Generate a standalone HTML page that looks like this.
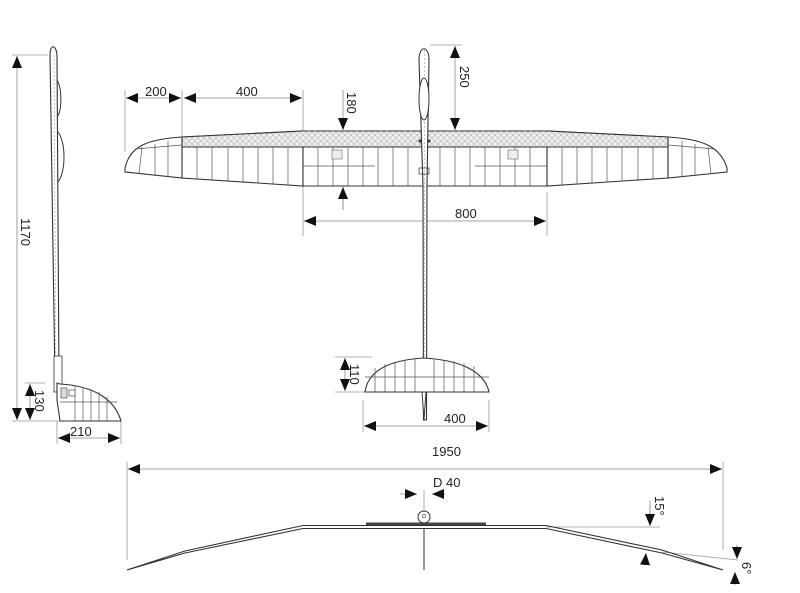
<!DOCTYPE html>
<html><head><style>
html,body{margin:0;padding:0;background:#fff;}
svg{display:block;}
text{font-family:"Liberation Sans",Arial,sans-serif;font-size:13px;fill:#222;}
</style></head><body>
<svg width="800" height="593" viewBox="0 0 800 593" xmlns="http://www.w3.org/2000/svg">
<defs>
<pattern id="h" width="6" height="6" patternUnits="userSpaceOnUse">
<rect width="6" height="6" fill="#f0f0f0"/>
<path d="M0 6L6 0M-1 1L1 -1M5 7L7 5M0 0L6 6" stroke="#bbb" stroke-width="0.7"/>
</pattern>
<marker id="a" markerWidth="12" markerHeight="10" refX="12" refY="5" orient="auto-start-reverse" markerUnits="userSpaceOnUse">
<path d="M0 0L12 5L0 10Z" fill="#111"/>
</marker>
</defs>
<g stroke="#999" stroke-width="0.8" fill="none">
<line x1="125" y1="90" x2="125" y2="152"/>
<line x1="182" y1="90" x2="182" y2="137"/>
<line x1="303" y1="90" x2="303" y2="236"/>
<line x1="547" y1="192" x2="547" y2="236"/>
<line x1="430" y1="45" x2="462" y2="45"/>
<line x1="455" y1="131" x2="462" y2="131"/>
<line x1="343" y1="186" x2="343" y2="210"/>
<line x1="12" y1="55" x2="48" y2="55"/>
<line x1="12" y1="421" x2="62" y2="421"/>
<line x1="25" y1="383" x2="45" y2="383"/>
<line x1="57" y1="421" x2="57" y2="444"/>
<line x1="121" y1="421" x2="121" y2="444"/>
<line x1="335" y1="357" x2="372" y2="357"/>
<line x1="335" y1="392" x2="365" y2="392"/>
<line x1="363" y1="400" x2="363" y2="432"/>
<line x1="489" y1="400" x2="489" y2="432"/>
<line x1="127" y1="462" x2="127" y2="560"/>
<line x1="723" y1="462" x2="723" y2="550"/>
<line x1="424" y1="490" x2="424" y2="512"/>
<line x1="546" y1="527" x2="660" y2="527"/>
<line x1="662" y1="552" x2="738" y2="560"/>
<line x1="650" y1="500" x2="650" y2="520"/>
<line x1="737" y1="545" x2="737" y2="552"/>
</g>
<g stroke="#888" stroke-width="0.8" fill="none">
<line x1="126" y1="98" x2="181" y2="98" marker-start="url(#a)" marker-end="url(#a)"/>
<line x1="184" y1="98" x2="302" y2="98" marker-start="url(#a)" marker-end="url(#a)"/>
<line x1="304" y1="221" x2="546" y2="221" marker-start="url(#a)" marker-end="url(#a)"/>
<line x1="455" y1="46" x2="455" y2="130" marker-start="url(#a)" marker-end="url(#a)"/>
<line x1="343" y1="90" x2="343" y2="130" marker-end="url(#a)"/>
<line x1="343" y1="210" x2="343" y2="187" marker-end="url(#a)"/>
<line x1="17" y1="56" x2="17" y2="420" marker-start="url(#a)" marker-end="url(#a)"/>
<line x1="30" y1="384" x2="30" y2="420" marker-start="url(#a)" marker-end="url(#a)"/>
<line x1="58" y1="438" x2="120" y2="438" marker-start="url(#a)" marker-end="url(#a)"/>
<line x1="345" y1="358" x2="345" y2="391" marker-start="url(#a)" marker-end="url(#a)"/>
<line x1="364" y1="426" x2="488" y2="426" marker-start="url(#a)" marker-end="url(#a)"/>
<line x1="128" y1="469" x2="722" y2="469" marker-start="url(#a)" marker-end="url(#a)"/>
<line x1="400" y1="494" x2="417" y2="494" marker-end="url(#a)"/>
<line x1="445" y1="494" x2="432" y2="494" marker-end="url(#a)"/>
<line x1="650" y1="505" x2="650" y2="526" marker-end="url(#a)"/>
<line x1="645" y1="565" x2="646" y2="553" marker-end="url(#a)"/>
<line x1="737" y1="545" x2="737" y2="559" marker-end="url(#a)"/>
<line x1="735" y1="585" x2="735" y2="572" marker-end="url(#a)"/>
</g>
<text x="145" y="96">200</text>
<text x="236" y="96">400</text>
<text x="455" y="218">800</text>
<text x="432" y="456">1950</text>
<text x="433" y="487">D 40</text>
<text x="444" y="423">400</text>
<text x="70" y="436">210</text>
<text transform="translate(347,92) rotate(90)">180</text>
<text transform="translate(460,66) rotate(90)">250</text>
<text transform="translate(21,218) rotate(90)">1170</text>
<text transform="translate(35,390) rotate(90)">130</text>
<text transform="translate(350,364) rotate(90)">110</text>
<text transform="translate(655,496) rotate(90)">15°</text>
<text transform="translate(742,562) rotate(90)">6°</text>

<g stroke="#333" stroke-width="1.1" fill="#fff">
<path d="M182 137 L303 131 L303 186 L182 178 Z"/>
<path d="M668 137 L547 131 L547 186 L668 178 Z"/>
<path d="M303 131 H547 V186 H303 Z"/>
<path d="M182 137 C150 139 130 145 125 168 L125 172 L182 178 Z"/>
<path d="M668 137 C700 139 720 145 727 168 L727 172 L668 178 Z"/>
<path d="M182 137 L303 131 L547 131 L668 137 L668 147 L547 147 L303 147 L182 147 Z" fill="url(#h)"/>
</g>
<g stroke="#555" stroke-width="0.7">
<line x1="197" y1="147" x2="197" y2="179"/><line x1="212" y1="147" x2="212" y2="180"/>
<line x1="228" y1="147" x2="228" y2="181"/><line x1="243" y1="147" x2="243" y2="182"/>
<line x1="258" y1="147" x2="258" y2="183"/><line x1="273" y1="147" x2="273" y2="184"/>
<line x1="288" y1="147" x2="288" y2="185"/>
<line x1="653" y1="147" x2="653" y2="179"/><line x1="638" y1="147" x2="638" y2="180"/>
<line x1="622" y1="147" x2="622" y2="181"/><line x1="607" y1="147" x2="607" y2="182"/>
<line x1="592" y1="147" x2="592" y2="183"/><line x1="577" y1="147" x2="577" y2="184"/>
<line x1="562" y1="147" x2="562" y2="185"/>
<line x1="318" y1="147" x2="318" y2="186"/><line x1="333" y1="147" x2="333" y2="186"/>
<line x1="348" y1="147" x2="348" y2="186"/><line x1="363" y1="147" x2="363" y2="186"/>
<line x1="378" y1="147" x2="378" y2="186"/><line x1="393" y1="147" x2="393" y2="186"/>
<line x1="408" y1="147" x2="408" y2="186"/><line x1="440" y1="147" x2="440" y2="186"/>
<line x1="455" y1="147" x2="455" y2="186"/><line x1="470" y1="147" x2="470" y2="186"/>
<line x1="485" y1="147" x2="485" y2="186"/><line x1="500" y1="147" x2="500" y2="186"/>
<line x1="515" y1="147" x2="515" y2="186"/><line x1="530" y1="147" x2="530" y2="186"/>
<line x1="303" y1="166" x2="375" y2="166"/><line x1="475" y1="166" x2="547" y2="166"/>
<line x1="142" y1="147" x2="139" y2="174"/><line x1="155" y1="144" x2="155" y2="175"/>
<line x1="168" y1="141" x2="168" y2="177"/><line x1="135" y1="149" x2="182" y2="145"/>
<line x1="708" y1="147" x2="711" y2="174"/><line x1="695" y1="144" x2="695" y2="175"/>
<line x1="682" y1="141" x2="682" y2="177"/><line x1="715" y1="149" x2="668" y2="145"/>
</g>
<rect x="332" y="150" width="10" height="9" fill="#eee" stroke="#666" stroke-width="0.6"/>
<rect x="508" y="150" width="10" height="9" fill="#eee" stroke="#666" stroke-width="0.6"/>
<path d="M419 60 C419 45 429 45 429 60 L427 186 L426.5 420 L423.5 420 L423 186 Z" fill="#fff" stroke="#333" stroke-width="1.1"/>
<line x1="424.5" y1="50" x2="424.5" y2="415" stroke="#999" stroke-width="0.6" stroke-dasharray="2,2"/>
<ellipse cx="424" cy="99" rx="5" ry="21" fill="#fff" stroke="#333"/>
<circle cx="420" cy="141" r="1.5" fill="#333"/><circle cx="429" cy="141" r="1.5" fill="#333"/>
<rect x="419" y="168" width="10" height="6" fill="none" stroke="#333" stroke-width="0.7"/>
<path d="M365 392 C368 370 390 360 424 358 C458 360 484 370 489 392 Z" fill="#fff" stroke="#333" stroke-width="1.1"/>
<line x1="365" y1="377" x2="489" y2="377" stroke="#555" stroke-width="0.7"/>
<g stroke="#555" stroke-width="0.7">
<line x1="375" y1="368" x2="375" y2="392"/><line x1="385" y1="364" x2="385" y2="392"/><line x1="395" y1="362" x2="395" y2="392"/><line x1="405" y1="360" x2="405" y2="392"/><line x1="415" y1="359" x2="415" y2="392"/>
<line x1="434" y1="359" x2="434" y2="392"/><line x1="444" y1="360" x2="444" y2="392"/><line x1="454" y1="361" x2="454" y2="392"/><line x1="464" y1="363" x2="464" y2="392"/><line x1="474" y1="366" x2="474" y2="392"/>
</g>
<path d="M422 392 L424 420 L426 392 Z" fill="#fff" stroke="#333"/>

<path d="M50 55 C50 44 56 44 57 55 L59 380 L55 380 Z" fill="#fff" stroke="#333" stroke-width="1.1"/>
<line x1="54" y1="55" x2="56" y2="380" stroke="#999" stroke-width="0.6" stroke-dasharray="2,2"/>
<path d="M57 80 C62 88 62 108 58 116" fill="none" stroke="#333"/>
<path d="M58 132 C66 142 66 172 58 182" fill="none" stroke="#333"/>
<path d="M54 356 L62 356 L62 392 L54 392 Z" fill="#fff" stroke="#333" stroke-width="0.8"/>
<path d="M57 383 L60 384 C95 386 115 400 121 421 L60 421 L57 400 Z" fill="#fff" stroke="#333" stroke-width="1.1"/>
<line x1="60" y1="402" x2="117" y2="402" stroke="#555" stroke-width="0.7"/>
<g stroke="#555" stroke-width="0.7">
<line x1="75" y1="386" x2="75" y2="421"/><line x1="83" y1="387" x2="83" y2="421"/><line x1="91" y1="389" x2="91" y2="421"/><line x1="99" y1="392" x2="99" y2="421"/><line x1="107" y1="397" x2="107" y2="421"/>
</g>
<rect x="61" y="388" width="6" height="10" fill="#ddd" stroke="#333" stroke-width="0.6"/>
<rect x="69" y="390" width="6" height="6" fill="#fff" stroke="#333" stroke-width="0.6"/>

<g fill="none" stroke="#333" stroke-width="1.1">
<path d="M303 525.5 H546 M303 528.5 H546"/>
<path d="M303 525.5 L185 551 L127 570 L185 553 L303 528.5"/>
<path d="M546 525.5 L662 550 L723 570 L662 553 L546 528.5"/>
</g>
<rect x="366" y="522.5" width="120" height="2.5" fill="#444"/>
<circle cx="424" cy="517" r="6" fill="#fff" stroke="#333"/>
<circle cx="424" cy="516" r="1.8" fill="none" stroke="#333" stroke-width="0.6"/>
<line x1="424" y1="529" x2="424" y2="570" stroke="#333"/>
</svg>
</body></html>
